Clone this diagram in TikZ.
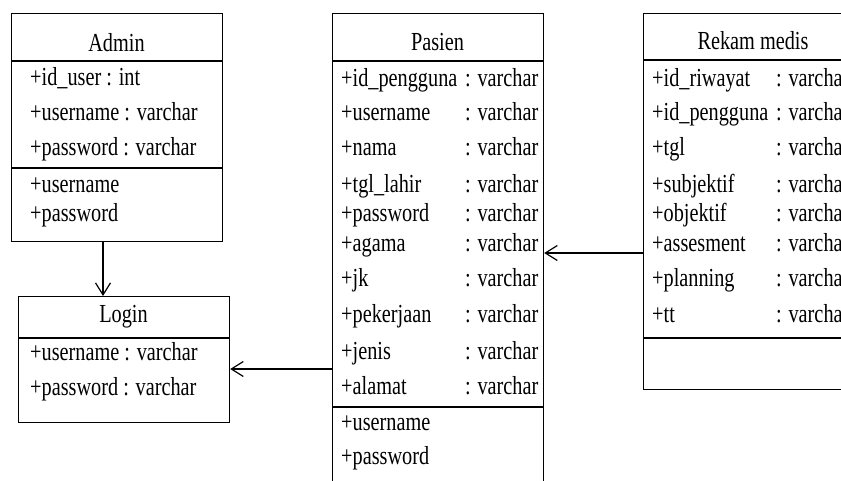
\documentclass[tikz,border=0pt]{standalone}
\usepackage{fontspec}
\setmainfont{Liberation Serif}[FakeStretch=0.78]
\usetikzlibrary{arrows.meta}

\tikzset{
  box/.style={draw, line width=1.2pt, inner sep=0pt, anchor=north west},
  attr/.style={anchor=base west, inner sep=0pt, font=\fontsize{26}{30}\selectfont},
  title/.style={anchor=base, inner sep=0pt, font=\fontsize{26}{30}\selectfont},
  arr/.style={line width=1.2pt, -{Straight Barb[length=12pt,width=15pt,line width=1.2pt]}}
}

\begin{document}
\begin{tikzpicture}[x=1pt,y=-1pt]
    \useasboundingbox (0,0) rectangle (841,481);
    \clip (0,0) rectangle (841,481);

    % Admin
    \node[box, minimum width=211pt, minimum height=228pt] (admin) at (11,13) {};
    \draw[line width=1.2pt] (admin.west |- 0,61) -- (admin.east |- 0,61);
    \draw[line width=1.2pt] (admin.west |- 0,168) -- (admin.east |- 0,168);
    \node[title] (admintitle) at (116.5,52) {Admin};
    \node[attr] (a1) at (30,86) {+id\_user : int};
    \node[attr] (a2) at (30,121) {+username : varchar};
    \node[attr] (a3) at (30,156) {+password : varchar};
    \node[attr] (a4) at (30,193) {+username};
    \node[attr] (a5) at (30,222) {+password};

    % Login
    \node[box, minimum width=211pt, minimum height=126pt] (login) at (18,296) {};
    \draw[line width=1.2pt] (login.west |- 0,338) -- (login.east |- 0,338);
    \node[title] (logintitle) at (123.5,323) {Login};
    \node[attr] (l1) at (30,360) {+username : varchar};
    \node[attr] (l2) at (30,395) {+password : varchar};

    % Pasien
    \node[box, minimum width=211pt, minimum height=500pt] (pasien) at (332,13) {};
    \draw[line width=1.2pt] (pasien.west |- 0,61) -- (pasien.east |- 0,61);
    \draw[line width=1.2pt] (pasien.west |- 0,407) -- (pasien.east |- 0,407);
    \node[title] (pasientitle) at (437.5,51) {Pasien};
    \node[attr] (p1) at (341,87) {+id\_pengguna};
    \node[attr] (p2) at (341,121) {+username};
    \node[attr] (p3) at (341,156) {+nama};
    \node[attr] (p4) at (341,193) {+tgl\_lahir};
    \node[attr] (p5) at (341,222) {+password};
    \node[attr] (p6) at (341,252) {+agama};
    \node[attr] (p7) at (341,287) {+jk};
    \node[attr] (p8) at (341,323) {+pekerjaan};
    \node[attr] (p9) at (341,359) {+jenis};
    \node[attr] (p10) at (341,394) {+alamat};
    \node[attr] (pt1) at (465,87) {: varchar};
    \node[attr] (pt2) at (465,121) {: varchar};
    \node[attr] (pt3) at (465,156) {: varchar};
    \node[attr] (pt4) at (465,193) {: varchar};
    \node[attr] (pt5) at (465,222) {: varchar};
    \node[attr] (pt6) at (465,252) {: varchar};
    \node[attr] (pt7) at (465,287) {: varchar};
    \node[attr] (pt8) at (465,323) {: varchar};
    \node[attr] (pt9) at (465,359) {: varchar};
    \node[attr] (pt10) at (465,394) {: varchar};
    \node[attr] (p11) at (341,430) {+username};
    \node[attr] (p12) at (341,464) {+password};

    % Rekam medis
    \node[box, minimum width=220pt, minimum height=376pt] (rekam) at (643,13) {};
    \draw[line width=1.2pt] (rekam.west |- 0,60) -- (rekam.east |- 0,60);
    \draw[line width=1.2pt] (rekam.west |- 0,338) -- (rekam.east |- 0,338);
    \node[title] (rekamtitle) at (753,50) {Rekam medis};
    \node[attr] (r1) at (652,87) {+id\_riwayat};
    \node[attr] (r2) at (652,121) {+id\_pengguna};
    \node[attr] (r3) at (652,156) {+tgl};
    \node[attr] (r4) at (652,193) {+subjektif};
    \node[attr] (r5) at (652,222) {+objektif};
    \node[attr] (r6) at (652,252) {+assesment};
    \node[attr] (r7) at (652,287) {+planning};
    \node[attr] (r8) at (652,323) {+tt};
    \node[attr] (rt1) at (776,87) {: varchar};
    \node[attr] (rt2) at (776,121) {: varchar};
    \node[attr] (rt3) at (776,156) {: varchar};
    \node[attr] (rt4) at (776,193) {: varchar};
    \node[attr] (rt5) at (776,222) {: varchar};
    \node[attr] (rt6) at (776,252) {: varchar};
    \node[attr] (rt7) at (776,287) {: varchar};
    \node[attr] (rt8) at (776,323) {: varchar};

    \draw[arr] (admin.south -| 103,0) -- (login.north -| 103,0);
    \draw[arr] (pasien.west |- 0,369) -- (login.east |- 0,369);
    \draw[arr] (rekam.west |- 0,253) -- (pasien.east |- 0,253);

\end{tikzpicture}
\end{document}
